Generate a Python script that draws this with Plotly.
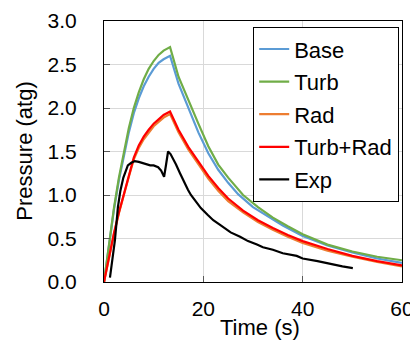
import plotly.graph_objects as go

# ---- data ----
t_base = [0, 1, 2, 3, 4, 5, 6, 7, 8, 9, 10, 11, 12, 13.3,
          15, 17, 19, 21, 23, 25, 27, 30, 33, 36, 40, 45, 50, 55, 60]
p_base = [0, 0.44, 0.83, 1.17, 1.46, 1.72, 1.94, 2.11, 2.25, 2.36, 2.45, 2.52, 2.56, 2.60,
          2.28, 1.99, 1.72, 1.48, 1.29, 1.14, 1.01, 0.86, 0.75, 0.65, 0.53, 0.42, 0.34, 0.27, 0.22]

t_turb = [0, 1, 2, 3, 4, 5, 6, 7, 8, 9, 10, 11, 12, 13.3,
          15, 17, 19, 21, 23, 25, 28, 31, 34, 37, 40, 45, 50, 55, 60]
p_turb = [0, 0.45, 0.85, 1.20, 1.50, 1.77, 2.00, 2.18, 2.33, 2.45, 2.54, 2.61, 2.66, 2.70,
          2.36, 2.08, 1.82, 1.56, 1.35, 1.20, 1.00, 0.86, 0.74, 0.64, 0.55, 0.43, 0.35, 0.29, 0.25]

t_rad = [0, 1, 2, 3, 4, 5, 6, 7, 8, 9, 10, 11, 12, 13.3,
         15, 17, 19, 21, 23, 25, 28, 31, 34, 37, 40, 45, 50, 55, 60]
p_rad = [0, 0.28, 0.55, 0.79, 1.01, 1.21, 1.41, 1.54, 1.64, 1.72, 1.79, 1.84, 1.89, 1.93,
         1.72, 1.52, 1.35, 1.19, 1.05, 0.93, 0.80, 0.69, 0.60, 0.52, 0.45, 0.36, 0.29, 0.23, 0.18]

t_turbrad = [0, 1, 2, 3, 4, 5, 6, 7, 8, 9, 10, 11, 12, 13.3,
             15, 17, 19, 21, 23, 25, 28, 31, 34, 37, 40, 45, 50, 55, 60]
p_turbrad = [0, 0.29, 0.56, 0.80, 1.02, 1.22, 1.43, 1.57, 1.67, 1.75, 1.82, 1.87, 1.92, 1.96,
             1.75, 1.55, 1.38, 1.22, 1.08, 0.96, 0.82, 0.71, 0.62, 0.54, 0.47, 0.38, 0.30, 0.24, 0.19]

t_exp = [1.2, 1.7, 2.2, 2.8, 3.3, 3.9, 4.8, 5.5, 6.2, 7.0, 7.6, 8.3, 9.3, 10.0, 10.9, 11.5,
         12.1, 12.5, 12.9, 13.4, 13.9, 14.5, 15.3, 16.1, 16.9, 17.5, 18.7, 19.5, 20.9, 22.0,
         23.3, 24.0, 25.5, 27.4, 29.0, 30.8, 32.0, 34.0, 36.0, 38.8, 40.0, 43.0, 46.0, 48.0, 50.1]
p_exp = [0.05, 0.25, 0.48, 0.86, 1.05, 1.20, 1.34, 1.37, 1.39, 1.38, 1.37, 1.36, 1.34, 1.34, 1.32, 1.28,
         1.21, 1.35, 1.50, 1.47, 1.42, 1.35, 1.25, 1.15, 1.06, 1.00, 0.91, 0.85, 0.77, 0.71,
         0.66, 0.63, 0.57, 0.52, 0.47, 0.43, 0.40, 0.37, 0.33, 0.30, 0.27, 0.24, 0.20, 0.18, 0.16]

series = [
    ("Base", t_base, p_base, "#5B9BD5"),
    ("Turb", t_turb, p_turb, "#70AD47"),
    ("Rad", t_rad, p_rad, "#ED7D31"),
    ("Turb+Rad", t_turbrad, p_turbrad, "#FF0000"),
    ("Exp", t_exp, p_exp, "#000000"),
]

FONT = "Liberation Sans, Arial, sans-serif"

fig = go.Figure()
for i, (name, tx, py, col) in enumerate(series):
    fig.add_trace(go.Scatter(x=tx, y=py, name=name, mode="lines",
                             line=dict(color=col, width=2.2),
                             legendgroup=f"g{i}"))

axis_common = dict(showline=True, mirror=True, linecolor="black", linewidth=1.2,
                   showgrid=True, gridcolor="#D9D9D9", gridwidth=1.3,
                   ticks="inside", ticklen=6, tickcolor="#595959", tickwidth=1.3,
                   zeroline=False, automargin=False,
                   tickfont=dict(family=FONT, size=21, color="black"))

fig.update_xaxes(range=[0, 60], dtick=20, tick0=0, ticklabelstandoff=8, **axis_common)
fig.update_yaxes(range=[0, 3], dtick=0.5, tick0=0, tickformat=".1f", ticklabelstandoff=22, **axis_common)

# page body has an 8px margin, so the figure is 410x332 placed at (8,8)
fig.update_layout(
    width=410, height=332,
    margin=dict(l=96, r=16, t=13, b=58, autoexpand=False),
    paper_bgcolor="white", plot_bgcolor="white",
    font=dict(family=FONT, size=21, color="black"),
    showlegend=True,
    legend=dict(x=0.5, xanchor="left", y=0.977, yanchor="top",
                bgcolor="white", bordercolor="black", borderwidth=1.2,
                font=dict(family=FONT, size=22), itemwidth=30,
                traceorder="grouped", tracegroupgap=1),
    annotations=[
        dict(text="Time (s)", xref="paper", yref="paper", x=0.523, y=-0.174,
             xanchor="center", yanchor="middle", showarrow=False,
             font=dict(family=FONT, size=22)),
        dict(text="Pressure (atg)", xref="paper", yref="paper", x=-0.268, y=0.5,
             xanchor="center", yanchor="middle", showarrow=False, textangle=-90,
             font=dict(family=FONT, size=22)),
    ],
)

fig.write_html("out.html")
